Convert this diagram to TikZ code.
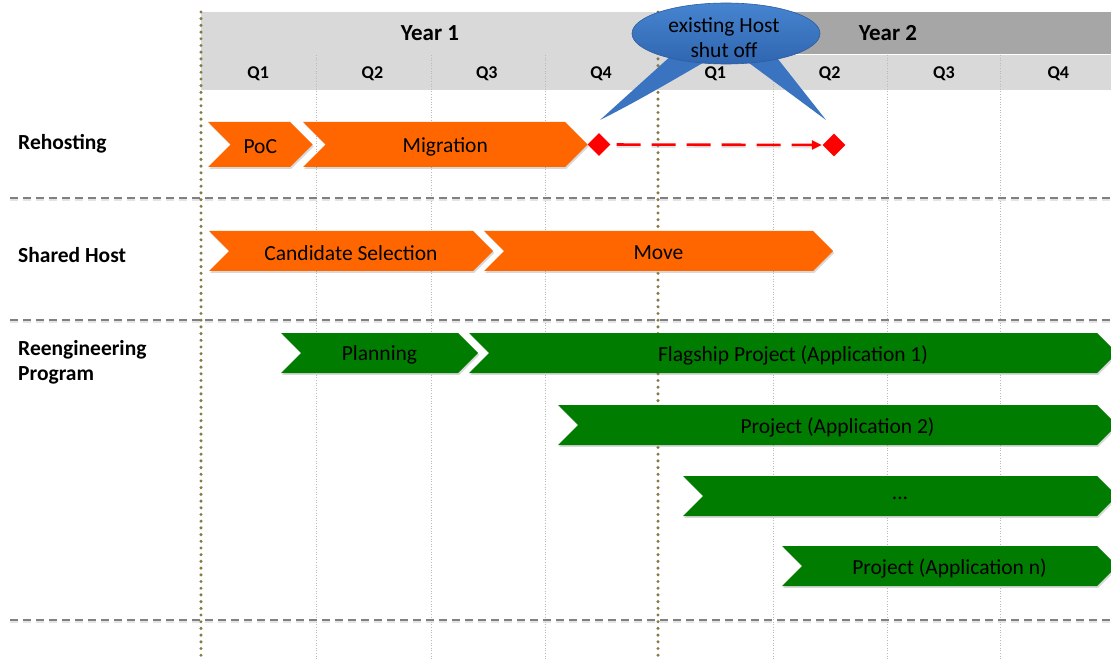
\documentclass[tikz,border=0pt]{standalone}
\usepackage{fontspec}
\setmainfont{Carlito}
\usetikzlibrary{shapes.geometric,shadows,arrows.meta}

\definecolor{hdrlight}{RGB}{217,217,217}
\definecolor{hdrdark}{RGB}{166,166,166}
\definecolor{barorange}{RGB}{255,102,0}
\definecolor{bargreen}{RGB}{0,125,0}
\definecolor{oliveline}{RGB}{135,122,72}
\definecolor{gridgray}{RGB}{185,185,185}
\definecolor{sepgray}{RGB}{128,128,128}
\definecolor{noteblue}{RGB}{58,116,192}
\definecolor{notetop}{RGB}{70,132,208}
\definecolor{notebottom}{RGB}{48,102,176}
\definecolor{noteedge}{RGB}{45,92,160}

\tikzset{
  qlabel/.style={font=\bfseries\fontsize{18}{20}\selectfont, inner sep=0},
  yearlabel/.style={font=\bfseries\fontsize{23}{26}\selectfont, inner sep=0},
  rowlabel/.style={font=\bfseries\fontsize{21.5}{25}\selectfont, anchor=west, align=left, inner sep=0},
  bartext/.style={font=\fontsize{21.5}{24}\selectfont, inner sep=0},
  notetext/.style={font=\fontsize{21.5}{25}\selectfont, align=center, inner sep=0},
  barshadow/.style={drop shadow={shadow xshift=1.2pt, shadow yshift=-1.8pt, opacity=0.3}},
  gridline/.style={gridgray, line width=0.8pt, dash pattern=on 1pt off 1.6pt},
  yearline/.style={oliveline, line width=3.4pt, line cap=round, dash pattern=on 0pt off 6.7pt},
  sepline/.style={sepgray, line width=2pt, dash pattern=on 8pt off 5pt},
  milestone/.style={diamond, fill=red, minimum width=23pt, minimum height=23pt, inner sep=0},
  redlink/.style={red, line width=2.6pt, dash pattern=on 24pt off 11pt,
                  -{Triangle[length=10pt,width=9pt]}, shorten <=6pt, shorten >=0.5pt},
}

% chevron bar: name, left x, right x of top edge, centre y, half height, colour, label
\newcommand\chevbar[7]{%
  \path[fill=#6, barshadow] (#2,{#4-#5}) -- (#3,{#4-#5}) -- ({#3+#5},#4)
    -- (#3,{#4+#5}) -- (#2,{#4+#5}) -- ({#2+#5},#4) -- cycle;
  \node[bartext] (#1) at ({(#2+#3+#5)/2},{#4+2}) {#7};
}

\begin{document}
\begin{tikzpicture}[x=1pt,y=-1pt]
\useasboundingbox[fill=white] (0,0) rectangle (1111,660);

% header band
\fill[hdrlight] (201,12) rectangle (1111,90);
\fill[hdrdark] (658,12) rectangle (1111,54);
\draw[white, line width=1pt] (658,54.5) -- (1111,54.5);
\node[yearlabel] (year1) at (430,33) {Year 1};
\node[yearlabel] (year2) at (888,33) {Year 2};
\foreach \i/\lab in {1/1,2/2,3/3,4/4,5/1,6/2,7/3,8/4}
  \node[qlabel] (q\i) at ({201+114.3*(\i-0.5)},74) {Q\lab};

% quarter grid
\foreach \x in {316,431,545,773,887,1000}
  \draw[gridline] (\x,55) -- (\x,660);

% row separators
\foreach \y in {198,320,620}{
  \draw[sepline, gray!35, opacity=0.6] (10,\y+1.8) -- (1111,\y+1.8);
  \draw[sepline] (10,\y) -- (1111,\y);
}

% year boundaries
\foreach \x in {201,658}
  \draw[yearline] (\x,12) -- (\x,660);

% row labels
\node[rowlabel] (lrehost) at (18,144) {Rehosting};
\node[rowlabel] (lshared) at (18,255) {Shared Host};
\node[rowlabel] (lreeng) at (18,362.5) {Reengineering\\Program};

% Rehosting
\chevbar{poc}{208}{290}{144.5}{22.5}{barorange}{PoC}
\chevbar{migration}{303}{565}{144.5}{22.5}{barorange}{Migration}

% Shared Host
\chevbar{candidates}{209}{473}{251}{20}{barorange}{Candidate Selection}
\chevbar{move}{484}{813}{251}{20}{barorange}{Move}

% Reengineering Program
\chevbar{planning}{281}{458}{353}{20}{bargreen}{Planning}
\chevbar{flagship}{469}{1097}{353}{20}{bargreen}{Flagship Project (Application 1)}
\chevbar{app2}{558}{1097}{425}{20}{bargreen}{Project (Application 2)}
\chevbar{appdots}{683}{1097}{496}{20}{bargreen}{...}
\chevbar{appn}{782}{1097}{566}{20}{bargreen}{Project (Application n)}

% milestones
\node[milestone] (m1) at (599,144.5) {};
\node[milestone] (m2) at (834,145) {};
\draw[redlink, draw=gray!50, opacity=0.4, -] ([yshift=-2pt]m1.east) -- ([yshift=-2pt]m2.west);
\draw[redlink] (m1) -- (m2);

% callout
\coordinate (tipl) at (600,120);
\coordinate (tipr) at (826,120);
\fill[noteblue] (673,54) -- (tipl) .. controls (640,100) and (680,76) .. (708,60) -- cycle;
\fill[noteblue] (745,60) -- (tipr) -- (774,54) -- cycle;
\node[ellipse, minimum width=188pt, minimum height=61pt, inner sep=0,
      top color=notetop, bottom color=notebottom, draw=noteedge, line width=0.6pt]
  (hostoff) at (726,33.5) {};
\node[notetext] (hostofftext) at (724,37.5) {existing Host\\shut off};
\end{tikzpicture}
\end{document}
